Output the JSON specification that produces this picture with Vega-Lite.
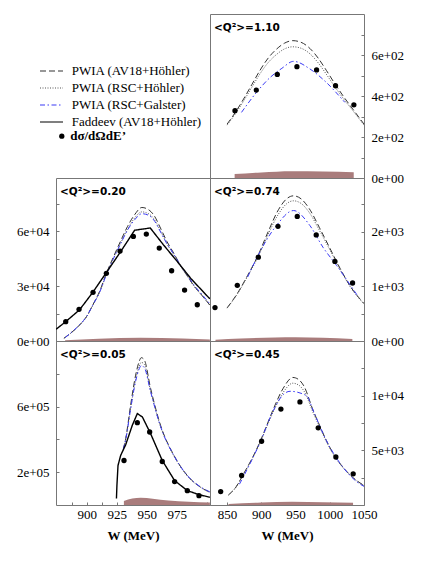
{
"$schema":"https://vega.github.io/schema/vega-lite/v6.json",
"padding":{"left":15,"top":13,"right":0,"bottom":0},
"background":"white",
"config":{
 "font":"Liberation Serif",
 "view":{"stroke":"#777777","strokeWidth":1},
 "axis":{"labelFont":"Liberation Serif","labelFontSize":13,"labelColor":"black","domain":false,"grid":false,"tickColor":"#777777","tickSize":-3,"labelPadding":10,"labelFlush":false,"labelOverlap":false,"labelBound":false,"title":null,"titleFont":"Liberation Serif","titleFontSize":13,"titleFontWeight":"bold","titleColor":"black"},
 "title":{"anchor":"start","frame":"group","orient":"top","offset":0,"dx":4,"dy":23,"baseline":"alphabetic","font":"DejaVu Sans","fontSize":10.5,"fontWeight":"bold","color":"black"},
 "legend":{"labelFont":"Liberation Serif","labelFontSize":13,"labelColor":"black","padding":0,"offset":0,"labelLimit":300}
},
"datasets":{
"curves":[
{"q":"1.10","s":"PWIA (AV18+Höhler)","W":850,"v":263},{"q":"1.10","s":"PWIA (AV18+Höhler)","W":862,"v":320},{"q":"1.10","s":"PWIA (AV18+Höhler)","W":874,"v":385},{"q":"1.10","s":"PWIA (AV18+Höhler)","W":886,"v":455},{"q":"1.10","s":"PWIA (AV18+Höhler)","W":898,"v":525},{"q":"1.10","s":"PWIA (AV18+Höhler)","W":910,"v":585},{"q":"1.10","s":"PWIA (AV18+Höhler)","W":922,"v":628},{"q":"1.10","s":"PWIA (AV18+Höhler)","W":934,"v":658},{"q":"1.10","s":"PWIA (AV18+Höhler)","W":946,"v":670},{"q":"1.10","s":"PWIA (AV18+Höhler)","W":958,"v":662},{"q":"1.10","s":"PWIA (AV18+Höhler)","W":971,"v":632},{"q":"1.10","s":"PWIA (AV18+Höhler)","W":983,"v":585},{"q":"1.10","s":"PWIA (AV18+Höhler)","W":995,"v":525},{"q":"1.10","s":"PWIA (AV18+Höhler)","W":1007,"v":462},{"q":"1.10","s":"PWIA (AV18+Höhler)","W":1020,"v":398},{"q":"1.10","s":"PWIA (AV18+Höhler)","W":1035,"v":330},{"q":"1.10","s":"PWIA (AV18+Höhler)","W":1050,"v":263},
{"q":"1.10","s":"PWIA (RSC+Höhler)","W":850,"v":258},{"q":"1.10","s":"PWIA (RSC+Höhler)","W":862,"v":313},{"q":"1.10","s":"PWIA (RSC+Höhler)","W":874,"v":375},{"q":"1.10","s":"PWIA (RSC+Höhler)","W":886,"v":442},{"q":"1.10","s":"PWIA (RSC+Höhler)","W":898,"v":508},{"q":"1.10","s":"PWIA (RSC+Höhler)","W":910,"v":563},{"q":"1.10","s":"PWIA (RSC+Höhler)","W":922,"v":602},{"q":"1.10","s":"PWIA (RSC+Höhler)","W":934,"v":630},{"q":"1.10","s":"PWIA (RSC+Höhler)","W":946,"v":640},{"q":"1.10","s":"PWIA (RSC+Höhler)","W":958,"v":633},{"q":"1.10","s":"PWIA (RSC+Höhler)","W":971,"v":606},{"q":"1.10","s":"PWIA (RSC+Höhler)","W":983,"v":562},{"q":"1.10","s":"PWIA (RSC+Höhler)","W":995,"v":506},{"q":"1.10","s":"PWIA (RSC+Höhler)","W":1007,"v":447},{"q":"1.10","s":"PWIA (RSC+Höhler)","W":1020,"v":387},{"q":"1.10","s":"PWIA (RSC+Höhler)","W":1035,"v":323},{"q":"1.10","s":"PWIA (RSC+Höhler)","W":1050,"v":258},
{"q":"1.10","s":"PWIA (RSC+Galster)","W":871,"v":320},{"q":"1.10","s":"PWIA (RSC+Galster)","W":893,"v":418},{"q":"1.10","s":"PWIA (RSC+Galster)","W":913,"v":491},{"q":"1.10","s":"PWIA (RSC+Galster)","W":930,"v":535},{"q":"1.10","s":"PWIA (RSC+Galster)","W":947,"v":569},{"q":"1.10","s":"PWIA (RSC+Galster)","W":971,"v":532},{"q":"1.10","s":"PWIA (RSC+Galster)","W":995,"v":466},{"q":"1.10","s":"PWIA (RSC+Galster)","W":1022,"v":369},
{"q":"0.74","s":"PWIA (AV18+Höhler)","W":850,"v":606},{"q":"0.74","s":"PWIA (AV18+Höhler)","W":865,"v":870},{"q":"0.74","s":"PWIA (AV18+Höhler)","W":880,"v":1200},{"q":"0.74","s":"PWIA (AV18+Höhler)","W":895,"v":1560},{"q":"0.74","s":"PWIA (AV18+Höhler)","W":910,"v":2000},{"q":"0.74","s":"PWIA (AV18+Höhler)","W":925,"v":2400},{"q":"0.74","s":"PWIA (AV18+Höhler)","W":937,"v":2600},{"q":"0.74","s":"PWIA (AV18+Höhler)","W":947,"v":2654},{"q":"0.74","s":"PWIA (AV18+Höhler)","W":958,"v":2600},{"q":"0.74","s":"PWIA (AV18+Höhler)","W":970,"v":2420},{"q":"0.74","s":"PWIA (AV18+Höhler)","W":985,"v":2070},{"q":"0.74","s":"PWIA (AV18+Höhler)","W":1000,"v":1700},{"q":"0.74","s":"PWIA (AV18+Höhler)","W":1015,"v":1330},{"q":"0.74","s":"PWIA (AV18+Höhler)","W":1030,"v":1000},{"q":"0.74","s":"PWIA (AV18+Höhler)","W":1050,"v":685},
{"q":"0.74","s":"PWIA (RSC+Höhler)","W":850,"v":600},{"q":"0.74","s":"PWIA (RSC+Höhler)","W":865,"v":860},{"q":"0.74","s":"PWIA (RSC+Höhler)","W":880,"v":1185},{"q":"0.74","s":"PWIA (RSC+Höhler)","W":895,"v":1530},{"q":"0.74","s":"PWIA (RSC+Höhler)","W":910,"v":1950},{"q":"0.74","s":"PWIA (RSC+Höhler)","W":925,"v":2320},{"q":"0.74","s":"PWIA (RSC+Höhler)","W":937,"v":2510},{"q":"0.74","s":"PWIA (RSC+Höhler)","W":947,"v":2563},{"q":"0.74","s":"PWIA (RSC+Höhler)","W":958,"v":2515},{"q":"0.74","s":"PWIA (RSC+Höhler)","W":970,"v":2350},{"q":"0.74","s":"PWIA (RSC+Höhler)","W":985,"v":2020},{"q":"0.74","s":"PWIA (RSC+Höhler)","W":1000,"v":1670},{"q":"0.74","s":"PWIA (RSC+Höhler)","W":1015,"v":1310},{"q":"0.74","s":"PWIA (RSC+Höhler)","W":1030,"v":990},{"q":"0.74","s":"PWIA (RSC+Höhler)","W":1050,"v":675},
{"q":"0.74","s":"PWIA (RSC+Galster)","W":880,"v":1169},{"q":"0.74","s":"PWIA (RSC+Galster)","W":895,"v":1560},{"q":"0.74","s":"PWIA (RSC+Galster)","W":922,"v":2110},{"q":"0.74","s":"PWIA (RSC+Galster)","W":947,"v":2385},{"q":"0.74","s":"PWIA (RSC+Galster)","W":971,"v":2110},{"q":"0.74","s":"PWIA (RSC+Galster)","W":990,"v":1715},{"q":"0.74","s":"PWIA (RSC+Galster)","W":1010,"v":1380},{"q":"0.74","s":"PWIA (RSC+Galster)","W":1041,"v":820},
{"q":"0.45","s":"PWIA (AV18+Höhler)","W":852,"v":921},{"q":"0.45","s":"PWIA (AV18+Höhler)","W":863,"v":1650},{"q":"0.45","s":"PWIA (AV18+Höhler)","W":874,"v":2850},{"q":"0.45","s":"PWIA (AV18+Höhler)","W":886,"v":4200},{"q":"0.45","s":"PWIA (AV18+Höhler)","W":898,"v":5770},{"q":"0.45","s":"PWIA (AV18+Höhler)","W":908,"v":7300},{"q":"0.45","s":"PWIA (AV18+Höhler)","W":918,"v":8840},{"q":"0.45","s":"PWIA (AV18+Höhler)","W":932,"v":10680},{"q":"0.45","s":"PWIA (AV18+Höhler)","W":946,"v":11665},{"q":"0.45","s":"PWIA (AV18+Höhler)","W":955,"v":11450},{"q":"0.45","s":"PWIA (AV18+Höhler)","W":962,"v":10900},{"q":"0.45","s":"PWIA (AV18+Höhler)","W":976,"v":8600},{"q":"0.45","s":"PWIA (AV18+Höhler)","W":985,"v":7300},{"q":"0.45","s":"PWIA (AV18+Höhler)","W":995,"v":5900},{"q":"0.45","s":"PWIA (AV18+Höhler)","W":1007,"v":4500},{"q":"0.45","s":"PWIA (AV18+Höhler)","W":1020,"v":3400},{"q":"0.45","s":"PWIA (AV18+Höhler)","W":1035,"v":2450},{"q":"0.45","s":"PWIA (AV18+Höhler)","W":1050,"v":1780},
{"q":"0.45","s":"PWIA (RSC+Höhler)","W":852,"v":910},{"q":"0.45","s":"PWIA (RSC+Höhler)","W":863,"v":1630},{"q":"0.45","s":"PWIA (RSC+Höhler)","W":874,"v":2820},{"q":"0.45","s":"PWIA (RSC+Höhler)","W":886,"v":4150},{"q":"0.45","s":"PWIA (RSC+Höhler)","W":898,"v":5680},{"q":"0.45","s":"PWIA (RSC+Höhler)","W":908,"v":7150},{"q":"0.45","s":"PWIA (RSC+Höhler)","W":918,"v":8600},{"q":"0.45","s":"PWIA (RSC+Höhler)","W":932,"v":10300},{"q":"0.45","s":"PWIA (RSC+Höhler)","W":946,"v":11140},{"q":"0.45","s":"PWIA (RSC+Höhler)","W":955,"v":10950},{"q":"0.45","s":"PWIA (RSC+Höhler)","W":962,"v":10450},{"q":"0.45","s":"PWIA (RSC+Höhler)","W":976,"v":8400},{"q":"0.45","s":"PWIA (RSC+Höhler)","W":985,"v":7150},{"q":"0.45","s":"PWIA (RSC+Höhler)","W":995,"v":5800},{"q":"0.45","s":"PWIA (RSC+Höhler)","W":1007,"v":4450},{"q":"0.45","s":"PWIA (RSC+Höhler)","W":1020,"v":3370},{"q":"0.45","s":"PWIA (RSC+Höhler)","W":1035,"v":2430},{"q":"0.45","s":"PWIA (RSC+Höhler)","W":1050,"v":1770},
{"q":"0.45","s":"PWIA (RSC+Galster)","W":868,"v":1900},{"q":"0.45","s":"PWIA (RSC+Galster)","W":886,"v":4100},{"q":"0.45","s":"PWIA (RSC+Galster)","W":898,"v":5700},{"q":"0.45","s":"PWIA (RSC+Galster)","W":918,"v":8700},{"q":"0.45","s":"PWIA (RSC+Galster)","W":932,"v":10100},{"q":"0.45","s":"PWIA (RSC+Galster)","W":942,"v":10400},{"q":"0.45","s":"PWIA (RSC+Galster)","W":966,"v":10000},{"q":"0.45","s":"PWIA (RSC+Galster)","W":976,"v":8600},{"q":"0.45","s":"PWIA (RSC+Galster)","W":995,"v":5900},{"q":"0.45","s":"PWIA (RSC+Galster)","W":1020,"v":3400},{"q":"0.45","s":"PWIA (RSC+Galster)","W":1040,"v":2100},{"q":"0.45","s":"PWIA (RSC+Galster)","W":1050,"v":1700},
{"q":"0.20","s":"Faddeev (AV18+Höhler)","W":874.5,"v":6400},{"q":"0.20","s":"Faddeev (AV18+Höhler)","W":882,"v":10300},{"q":"0.20","s":"Faddeev (AV18+Höhler)","W":894,"v":17000},{"q":"0.20","s":"Faddeev (AV18+Höhler)","W":905,"v":26500},{"q":"0.20","s":"Faddeev (AV18+Höhler)","W":916,"v":37000},{"q":"0.20","s":"Faddeev (AV18+Höhler)","W":928,"v":48500},{"q":"0.20","s":"Faddeev (AV18+Höhler)","W":940,"v":60500},{"q":"0.20","s":"Faddeev (AV18+Höhler)","W":953,"v":61700},{"q":"0.20","s":"Faddeev (AV18+Höhler)","W":964,"v":52500},{"q":"0.20","s":"Faddeev (AV18+Höhler)","W":976,"v":43000},{"q":"0.20","s":"Faddeev (AV18+Höhler)","W":987,"v":34000},{"q":"0.20","s":"Faddeev (AV18+Höhler)","W":1002.7,"v":23000},
{"q":"0.20","s":"PWIA (AV18+Höhler)","W":881,"v":1500},{"q":"0.20","s":"PWIA (AV18+Höhler)","W":887,"v":4500},{"q":"0.20","s":"PWIA (AV18+Höhler)","W":894,"v":8700},{"q":"0.20","s":"PWIA (AV18+Höhler)","W":900,"v":13500},{"q":"0.20","s":"PWIA (AV18+Höhler)","W":905,"v":19600},{"q":"0.20","s":"PWIA (AV18+Höhler)","W":911,"v":27500},{"q":"0.20","s":"PWIA (AV18+Höhler)","W":916,"v":36300},{"q":"0.20","s":"PWIA (AV18+Höhler)","W":922,"v":45500},{"q":"0.20","s":"PWIA (AV18+Höhler)","W":928,"v":54200},{"q":"0.20","s":"PWIA (AV18+Höhler)","W":934,"v":62500},{"q":"0.20","s":"PWIA (AV18+Höhler)","W":940,"v":69000},{"q":"0.20","s":"PWIA (AV18+Höhler)","W":946,"v":72900},{"q":"0.20","s":"PWIA (AV18+Höhler)","W":952,"v":71500},{"q":"0.20","s":"PWIA (AV18+Höhler)","W":956,"v":68700},{"q":"0.20","s":"PWIA (AV18+Höhler)","W":962,"v":61000},{"q":"0.20","s":"PWIA (AV18+Höhler)","W":967,"v":54200},{"q":"0.20","s":"PWIA (AV18+Höhler)","W":973,"v":47500},{"q":"0.20","s":"PWIA (AV18+Höhler)","W":978,"v":41500},{"q":"0.20","s":"PWIA (AV18+Höhler)","W":984,"v":35500},{"q":"0.20","s":"PWIA (AV18+Höhler)","W":989,"v":30500},{"q":"0.20","s":"PWIA (AV18+Höhler)","W":996,"v":25000},{"q":"0.20","s":"PWIA (AV18+Höhler)","W":1002.7,"v":19600},
{"q":"0.20","s":"PWIA (RSC+Höhler)","W":881,"v":1500},{"q":"0.20","s":"PWIA (RSC+Höhler)","W":887,"v":4400},{"q":"0.20","s":"PWIA (RSC+Höhler)","W":894,"v":8600},{"q":"0.20","s":"PWIA (RSC+Höhler)","W":900,"v":13300},{"q":"0.20","s":"PWIA (RSC+Höhler)","W":905,"v":19300},{"q":"0.20","s":"PWIA (RSC+Höhler)","W":911,"v":27000},{"q":"0.20","s":"PWIA (RSC+Höhler)","W":916,"v":35700},{"q":"0.20","s":"PWIA (RSC+Höhler)","W":922,"v":44700},{"q":"0.20","s":"PWIA (RSC+Höhler)","W":928,"v":53000},{"q":"0.20","s":"PWIA (RSC+Höhler)","W":934,"v":61000},{"q":"0.20","s":"PWIA (RSC+Höhler)","W":940,"v":67200},{"q":"0.20","s":"PWIA (RSC+Höhler)","W":946,"v":70500},{"q":"0.20","s":"PWIA (RSC+Höhler)","W":952,"v":69300},{"q":"0.20","s":"PWIA (RSC+Höhler)","W":956,"v":66700},{"q":"0.20","s":"PWIA (RSC+Höhler)","W":962,"v":59500},{"q":"0.20","s":"PWIA (RSC+Höhler)","W":967,"v":53000},{"q":"0.20","s":"PWIA (RSC+Höhler)","W":973,"v":46700},{"q":"0.20","s":"PWIA (RSC+Höhler)","W":978,"v":41000},{"q":"0.20","s":"PWIA (RSC+Höhler)","W":984,"v":35200},{"q":"0.20","s":"PWIA (RSC+Höhler)","W":989,"v":30300},{"q":"0.20","s":"PWIA (RSC+Höhler)","W":996,"v":24800},{"q":"0.20","s":"PWIA (RSC+Höhler)","W":1002.7,"v":19500},
{"q":"0.20","s":"PWIA (RSC+Galster)","W":882,"v":1800},{"q":"0.20","s":"PWIA (RSC+Galster)","W":887,"v":4600},{"q":"0.20","s":"PWIA (RSC+Galster)","W":894,"v":8800},{"q":"0.20","s":"PWIA (RSC+Galster)","W":900,"v":13500},{"q":"0.20","s":"PWIA (RSC+Galster)","W":905,"v":19500},{"q":"0.20","s":"PWIA (RSC+Galster)","W":911,"v":27000},{"q":"0.20","s":"PWIA (RSC+Galster)","W":916,"v":35500},{"q":"0.20","s":"PWIA (RSC+Galster)","W":922,"v":44500},{"q":"0.20","s":"PWIA (RSC+Galster)","W":928,"v":52700},{"q":"0.20","s":"PWIA (RSC+Galster)","W":934,"v":60500},{"q":"0.20","s":"PWIA (RSC+Galster)","W":940,"v":66200},{"q":"0.20","s":"PWIA (RSC+Galster)","W":946,"v":69500},{"q":"0.20","s":"PWIA (RSC+Galster)","W":952,"v":68500},{"q":"0.20","s":"PWIA (RSC+Galster)","W":956,"v":66000},{"q":"0.20","s":"PWIA (RSC+Galster)","W":962,"v":59000},{"q":"0.20","s":"PWIA (RSC+Galster)","W":967,"v":53000},{"q":"0.20","s":"PWIA (RSC+Galster)","W":973,"v":47000},{"q":"0.20","s":"PWIA (RSC+Galster)","W":978,"v":41500},{"q":"0.20","s":"PWIA (RSC+Galster)","W":984,"v":36000},{"q":"0.20","s":"PWIA (RSC+Galster)","W":989,"v":31000},{"q":"0.20","s":"PWIA (RSC+Galster)","W":996,"v":25500},{"q":"0.20","s":"PWIA (RSC+Galster)","W":1002.7,"v":20300},
{"q":"0.05","s":"Faddeev (AV18+Höhler)","W":924.8,"v":40000},{"q":"0.05","s":"Faddeev (AV18+Höhler)","W":925.2,"v":120000},{"q":"0.05","s":"Faddeev (AV18+Höhler)","W":926.1,"v":240700},{"q":"0.05","s":"Faddeev (AV18+Höhler)","W":928.3,"v":302000},{"q":"0.05","s":"Faddeev (AV18+Höhler)","W":932.5,"v":367400},{"q":"0.05","s":"Faddeev (AV18+Höhler)","W":938,"v":485600},{"q":"0.05","s":"Faddeev (AV18+Höhler)","W":942.2,"v":557300},{"q":"0.05","s":"Faddeev (AV18+Höhler)","W":946.4,"v":537000},{"q":"0.05","s":"Faddeev (AV18+Höhler)","W":953.3,"v":434800},{"q":"0.05","s":"Faddeev (AV18+Höhler)","W":963,"v":271300},{"q":"0.05","s":"Faddeev (AV18+Höhler)","W":973.3,"v":148800},{"q":"0.05","s":"Faddeev (AV18+Höhler)","W":983.9,"v":87600},{"q":"0.05","s":"Faddeev (AV18+Höhler)","W":993.6,"v":63000},{"q":"0.05","s":"Faddeev (AV18+Höhler)","W":1002.7,"v":47100},
{"q":"0.05","s":"PWIA (AV18+Höhler)","W":930.5,"v":340000},{"q":"0.05","s":"PWIA (AV18+Höhler)","W":932.5,"v":404200},{"q":"0.05","s":"PWIA (AV18+Höhler)","W":936.6,"v":608000},{"q":"0.05","s":"PWIA (AV18+Höhler)","W":940.8,"v":791800},{"q":"0.05","s":"PWIA (AV18+Höhler)","W":943.5,"v":870000},{"q":"0.05","s":"PWIA (AV18+Höhler)","W":945.5,"v":898300},{"q":"0.05","s":"PWIA (AV18+Höhler)","W":948,"v":885000},{"q":"0.05","s":"PWIA (AV18+Höhler)","W":953.3,"v":710400},{"q":"0.05","s":"PWIA (AV18+Höhler)","W":961.6,"v":485600},{"q":"0.05","s":"PWIA (AV18+Höhler)","W":972.8,"v":302000},{"q":"0.05","s":"PWIA (AV18+Höhler)","W":983.9,"v":179400},{"q":"0.05","s":"PWIA (AV18+Höhler)","W":995,"v":108400},{"q":"0.05","s":"PWIA (AV18+Höhler)","W":1002.7,"v":77800},
{"q":"0.05","s":"PWIA (RSC+Höhler)","W":930.5,"v":340000},{"q":"0.05","s":"PWIA (RSC+Höhler)","W":932.5,"v":400000},{"q":"0.05","s":"PWIA (RSC+Höhler)","W":936.6,"v":590000},{"q":"0.05","s":"PWIA (RSC+Höhler)","W":940.8,"v":765000},{"q":"0.05","s":"PWIA (RSC+Höhler)","W":943.5,"v":840000},{"q":"0.05","s":"PWIA (RSC+Höhler)","W":945.5,"v":869600},{"q":"0.05","s":"PWIA (RSC+Höhler)","W":948,"v":858000},{"q":"0.05","s":"PWIA (RSC+Höhler)","W":953.3,"v":695000},{"q":"0.05","s":"PWIA (RSC+Höhler)","W":961.6,"v":478000},{"q":"0.05","s":"PWIA (RSC+Höhler)","W":972.8,"v":298000},{"q":"0.05","s":"PWIA (RSC+Höhler)","W":983.9,"v":177000},{"q":"0.05","s":"PWIA (RSC+Höhler)","W":995,"v":107000},{"q":"0.05","s":"PWIA (RSC+Höhler)","W":1002.7,"v":77000},
{"q":"0.05","s":"PWIA (RSC+Galster)","W":930.5,"v":340000},{"q":"0.05","s":"PWIA (RSC+Galster)","W":932.5,"v":398000},{"q":"0.05","s":"PWIA (RSC+Galster)","W":936.6,"v":585000},{"q":"0.05","s":"PWIA (RSC+Galster)","W":940.8,"v":755000},{"q":"0.05","s":"PWIA (RSC+Galster)","W":943.5,"v":825000},{"q":"0.05","s":"PWIA (RSC+Galster)","W":945.5,"v":850000},{"q":"0.05","s":"PWIA (RSC+Galster)","W":948,"v":838000},{"q":"0.05","s":"PWIA (RSC+Galster)","W":953.3,"v":690000},{"q":"0.05","s":"PWIA (RSC+Galster)","W":961.6,"v":478000},{"q":"0.05","s":"PWIA (RSC+Galster)","W":972.8,"v":300000},{"q":"0.05","s":"PWIA (RSC+Galster)","W":983.9,"v":180000},{"q":"0.05","s":"PWIA (RSC+Galster)","W":995,"v":110000},{"q":"0.05","s":"PWIA (RSC+Galster)","W":1002.7,"v":80000}
],
"points":[
{"q":"1.10","W":861.5,"v":328},{"q":"1.10","W":892.6,"v":429},{"q":"1.10","W":923.3,"v":505},{"q":"1.10","W":952,"v":543},{"q":"1.10","W":980.7,"v":527},{"q":"1.10","W":1008.4,"v":450},{"q":"1.10","W":1035.2,"v":357},
{"q":"0.74","W":832.3,"v":612},{"q":"0.74","W":864.9,"v":1018},{"q":"0.74","W":895.6,"v":1533},{"q":"0.74","W":924.3,"v":2097},{"q":"0.74","W":952.5,"v":2278},{"q":"0.74","W":980.2,"v":1939},{"q":"0.74","W":1007.5,"v":1454},{"q":"0.74","W":1033.3,"v":1060},
{"q":"0.45","W":840.6,"v":1225},{"q":"0.45","W":871.2,"v":2700},{"q":"0.45","W":900.4,"v":5830},{"q":"0.45","W":928.6,"v":8776},{"q":"0.45","W":956.4,"v":9423},{"q":"0.45","W":983.1,"v":7060},{"q":"0.45","W":1008.9,"v":4390},{"q":"0.45","W":1034.2,"v":2854},
{"q":"0.20","W":882.5,"v":10530},{"q":"0.20","W":893.6,"v":17290},{"q":"0.20","W":905.3,"v":26560},{"q":"0.20","W":916.4,"v":36930},{"q":"0.20","W":927.8,"v":49095},{"q":"0.20","W":938.9,"v":57110},{"q":"0.20","W":949.7,"v":58370},{"q":"0.20","W":960.5,"v":50730},{"q":"0.20","W":970.8,"v":38350},{"q":"0.20","W":981.6,"v":27820},{"q":"0.20","W":992.2,"v":19800},
{"q":"0.05","W":931.1,"v":271300},{"q":"0.05","W":942.2,"v":502200},{"q":"0.05","W":952.5,"v":445200},{"q":"0.05","W":963,"v":265200},{"q":"0.05","W":973.3,"v":142700},{"q":"0.05","W":983.9,"v":87600},{"q":"0.05","W":993.6,"v":57000}
],
"band":[
{"q":"1.10","W":861,"v":19},{"q":"1.10","W":900,"v":27},{"q":"1.10","W":945,"v":33},{"q":"1.10","W":990,"v":32},{"q":"1.10","W":1035,"v":28},
{"q":"0.74","W":833,"v":25},{"q":"0.74","W":870,"v":45},{"q":"0.74","W":920,"v":65},{"q":"0.74","W":950,"v":70},{"q":"0.74","W":990,"v":60},{"q":"0.74","W":1033,"v":35},
{"q":"0.45","W":852,"v":100},{"q":"0.45","W":900,"v":220},{"q":"0.45","W":945,"v":300},{"q":"0.45","W":990,"v":250},{"q":"0.45","W":1034,"v":200},
{"q":"0.20","W":882,"v":400},{"q":"0.20","W":910,"v":1200},{"q":"0.20","W":945,"v":1800},{"q":"0.20","W":980,"v":1300},{"q":"0.20","W":1002.7,"v":800},
{"q":"0.05","W":931,"v":25000},{"q":"0.05","W":938,"v":40000},{"q":"0.05","W":945,"v":44000},{"q":"0.05","W":955,"v":38000},{"q":"0.05","W":968,"v":27000},{"q":"0.05","W":985,"v":20000},{"q":"0.05","W":1002.7,"v":15000}
]
},
"columns":2,
"spacing":0,
"bounds":"flush",
"resolve":{"scale":{"color":"shared","strokeDash":"shared","shape":"shared"}},
"concat":[
{"width":154,"height":164,"view":{"stroke":null},"data":{"values":[{"a":1}]},"mark":{"type":"point","opacity":0}},
{"width":154,"height":164,"title":{"text":"<Q²>=1.10"},
 "encoding":{"x":{"field":"W","type":"quantitative","scale":{"domain":[825,1050],"nice":false,"zero":false},"axis":null},
  "y":{"field":"v","type":"quantitative","scale":{"domain":[0,800],"nice":false},"axis":{"orient":"right","values":[0,100,200,300,400,500,600,700],"labelExpr":"datum.value % 200 == 0 ? replace(format(datum.value, '.0e'), 'e+', 'e+0') : ''"}}},
 "layer":[
  {"data":{"name":"band"},"transform":[{"filter":"datum.q == '1.10'"}],"mark":{"type":"area","color":"#a97c7c","interpolate":"monotone","clip":true}},
  {"data":{"name":"curves"},"transform":[{"filter":"datum.q == '1.10'"}],"mark":{"type":"line","strokeWidth":1,"interpolate":"monotone","clip":true},
   "encoding":{"color":{"field":"s","type":"nominal","scale":{"domain":["PWIA (AV18+Höhler)","PWIA (RSC+Höhler)","PWIA (RSC+Galster)","Faddeev (AV18+Höhler)"],"range":["#333333","#555555","#3b3bf5","#000000"]},"legend":{"orient":"none","legendX":-17,"legendY":48.7,"title":null,"symbolType":"stroke","symbolSize":529,"symbolStrokeWidth":1.1,"labelOffset":7.7,"rowPadding":0,"clipHeight":16.67}},
    "strokeDash":{"field":"s","type":"nominal","scale":{"domain":["PWIA (AV18+Höhler)","PWIA (RSC+Höhler)","PWIA (RSC+Galster)","Faddeev (AV18+Höhler)"],"range":[[6,3],[1,1.5],[5,2.5,1.5,2.5],[1,0]]},"legend":{"orient":"none","legendX":-17,"legendY":48.7,"title":null,"symbolType":"stroke","symbolSize":529,"symbolStrokeWidth":1.1,"labelOffset":7.7,"rowPadding":0,"clipHeight":16.67}}}},
  {"data":{"name":"points"},"transform":[{"filter":"datum.q == '1.10'"}],"mark":{"type":"point","filled":true,"color":"black","opacity":1,"size":28},
   "encoding":{"shape":{"datum":"dσ/dΩdE’","type":"nominal","scale":{"range":["circle"]},"legend":{"orient":"none","legendX":-0.7,"legendY":115.7,"title":null,"symbolSize":28,"symbolFillColor":"black","symbolStrokeWidth":0,"symbolOpacity":1,"labelFontWeight":"bold","labelOffset":1.9}}}}
 ]},
{"width":154,"height":163,"title":{"text":"<Q²>=0.20"},
 "encoding":{"x":{"field":"W","type":"quantitative","scale":{"domain":[874.4,1002.8],"nice":false,"zero":false},"axis":null},
  "y":{"field":"v","type":"quantitative","scale":{"domain":[0,89000],"nice":false},"axis":{"orient":"left","values":[0,15000,30000,45000,60000,75000],"labelExpr":"datum.value % 30000 == 0 ? replace(format(datum.value, '.0e'), 'e+', 'e+0') : ''"}}},
 "layer":[
  {"data":{"name":"band"},"transform":[{"filter":"datum.q == '0.20'"}],"mark":{"type":"area","color":"#a97c7c","interpolate":"monotone","clip":true}},
  {"data":{"name":"curves"},"transform":[{"filter":"datum.q == '0.20' && datum.s != 'Faddeev (AV18+Höhler)'"}],"mark":{"type":"line","strokeWidth":1,"interpolate":"monotone","clip":true},
   "encoding":{"color":{"field":"s","type":"nominal","scale":{"domain":["PWIA (AV18+Höhler)","PWIA (RSC+Höhler)","PWIA (RSC+Galster)","Faddeev (AV18+Höhler)"],"range":["#333333","#555555","#3b3bf5","#000000"]},"legend":{"orient":"none","legendX":-17,"legendY":48.7,"title":null,"symbolType":"stroke","symbolSize":529,"symbolStrokeWidth":1.1,"labelOffset":7.7,"rowPadding":0,"clipHeight":16.67}},
    "strokeDash":{"field":"s","type":"nominal","scale":{"domain":["PWIA (AV18+Höhler)","PWIA (RSC+Höhler)","PWIA (RSC+Galster)","Faddeev (AV18+Höhler)"],"range":[[6,3],[1,1.5],[5,2.5,1.5,2.5],[1,0]]},"legend":{"orient":"none","legendX":-17,"legendY":48.7,"title":null,"symbolType":"stroke","symbolSize":529,"symbolStrokeWidth":1.1,"labelOffset":7.7,"rowPadding":0,"clipHeight":16.67}}}},
  {"data":{"name":"curves"},"transform":[{"filter":"datum.q == '0.20' && datum.s == 'Faddeev (AV18+Höhler)'"}],"mark":{"type":"line","strokeWidth":1.4,"interpolate":"linear","clip":true},
   "encoding":{"color":{"field":"s","type":"nominal","scale":{"domain":["PWIA (AV18+Höhler)","PWIA (RSC+Höhler)","PWIA (RSC+Galster)","Faddeev (AV18+Höhler)"],"range":["#333333","#555555","#3b3bf5","#000000"]},"legend":{"orient":"none","legendX":-17,"legendY":48.7,"title":null,"symbolType":"stroke","symbolSize":529,"symbolStrokeWidth":1.1,"labelOffset":7.7,"rowPadding":0,"clipHeight":16.67}},
    "strokeDash":{"field":"s","type":"nominal","scale":{"domain":["PWIA (AV18+Höhler)","PWIA (RSC+Höhler)","PWIA (RSC+Galster)","Faddeev (AV18+Höhler)"],"range":[[6,3],[1,1.5],[5,2.5,1.5,2.5],[1,0]]},"legend":{"orient":"none","legendX":-17,"legendY":48.7,"title":null,"symbolType":"stroke","symbolSize":529,"symbolStrokeWidth":1.1,"labelOffset":7.7,"rowPadding":0,"clipHeight":16.67}}}},
  {"data":{"name":"points"},"transform":[{"filter":"datum.q == '0.20'"}],"mark":{"type":"point","filled":true,"color":"black","opacity":1,"size":28},
   "encoding":{"shape":{"datum":"dσ/dΩdE’","type":"nominal","scale":{"range":["circle"]},"legend":{"orient":"none","legendX":-0.7,"legendY":115.7,"title":null,"symbolSize":28,"symbolFillColor":"black","symbolStrokeWidth":0,"symbolOpacity":1,"labelFontWeight":"bold","labelOffset":1.9}}}}
 ]},
{"width":154,"height":163,"title":{"text":"<Q²>=0.74"},
 "encoding":{"x":{"field":"W","type":"quantitative","scale":{"domain":[825,1050],"nice":false,"zero":false},"axis":null},
  "y":{"field":"v","type":"quantitative","scale":{"domain":[0,2980],"nice":false},"axis":{"orient":"right","values":[0,500,1000,1500,2000,2500],"labelExpr":"datum.value % 1000 == 0 ? replace(format(datum.value, '.0e'), 'e+', 'e+0') : ''"}}},
 "layer":[
  {"data":{"name":"band"},"transform":[{"filter":"datum.q == '0.74'"}],"mark":{"type":"area","color":"#a97c7c","interpolate":"monotone","clip":true}},
  {"data":{"name":"curves"},"transform":[{"filter":"datum.q == '0.74'"}],"mark":{"type":"line","strokeWidth":1,"interpolate":"monotone","clip":true},
   "encoding":{"color":{"field":"s","type":"nominal","scale":{"domain":["PWIA (AV18+Höhler)","PWIA (RSC+Höhler)","PWIA (RSC+Galster)","Faddeev (AV18+Höhler)"],"range":["#333333","#555555","#3b3bf5","#000000"]},"legend":{"orient":"none","legendX":-17,"legendY":48.7,"title":null,"symbolType":"stroke","symbolSize":529,"symbolStrokeWidth":1.1,"labelOffset":7.7,"rowPadding":0,"clipHeight":16.67}},
    "strokeDash":{"field":"s","type":"nominal","scale":{"domain":["PWIA (AV18+Höhler)","PWIA (RSC+Höhler)","PWIA (RSC+Galster)","Faddeev (AV18+Höhler)"],"range":[[6,3],[1,1.5],[5,2.5,1.5,2.5],[1,0]]},"legend":{"orient":"none","legendX":-17,"legendY":48.7,"title":null,"symbolType":"stroke","symbolSize":529,"symbolStrokeWidth":1.1,"labelOffset":7.7,"rowPadding":0,"clipHeight":16.67}}}},
  {"data":{"name":"points"},"transform":[{"filter":"datum.q == '0.74'"}],"mark":{"type":"point","filled":true,"color":"black","opacity":1,"size":28},
   "encoding":{"shape":{"datum":"dσ/dΩdE’","type":"nominal","scale":{"range":["circle"]},"legend":{"orient":"none","legendX":-0.7,"legendY":115.7,"title":null,"symbolSize":28,"symbolFillColor":"black","symbolStrokeWidth":0,"symbolOpacity":1,"labelFontWeight":"bold","labelOffset":1.9}}}}
 ]},
{"width":154,"height":164,"title":{"text":"<Q²>=0.05"},
 "encoding":{"x":{"field":"W","type":"quantitative","scale":{"domain":[874.4,1002.8],"nice":false,"zero":false},"axis":{"orient":"bottom","values":[887.5,900,912.5,925,937.5,950,962.5,975,987.5,1000],"labelExpr":"datum.value % 25 == 0 && datum.value < 1000 ? format(datum.value, 'd') : ''","title":"W (MeV)","labelPadding":6,"titlePadding":8}},
  "y":{"field":"v","type":"quantitative","scale":{"domain":[0,1000000],"nice":false},"axis":{"orient":"left","values":[200000,400000,600000,800000],"labelExpr":"datum.value == 200000 || datum.value == 600000 ? replace(format(datum.value, '.0e'), 'e+', 'e+0') : ''"}}},
 "layer":[
  {"data":{"name":"band"},"transform":[{"filter":"datum.q == '0.05'"}],"mark":{"type":"area","color":"#a97c7c","interpolate":"monotone","clip":true}},
  {"data":{"name":"curves"},"transform":[{"filter":"datum.q == '0.05' && datum.s != 'Faddeev (AV18+Höhler)'"}],"mark":{"type":"line","strokeWidth":1,"interpolate":"monotone","clip":true},
   "encoding":{"color":{"field":"s","type":"nominal","scale":{"domain":["PWIA (AV18+Höhler)","PWIA (RSC+Höhler)","PWIA (RSC+Galster)","Faddeev (AV18+Höhler)"],"range":["#333333","#555555","#3b3bf5","#000000"]},"legend":{"orient":"none","legendX":-17,"legendY":48.7,"title":null,"symbolType":"stroke","symbolSize":529,"symbolStrokeWidth":1.1,"labelOffset":7.7,"rowPadding":0,"clipHeight":16.67}},
    "strokeDash":{"field":"s","type":"nominal","scale":{"domain":["PWIA (AV18+Höhler)","PWIA (RSC+Höhler)","PWIA (RSC+Galster)","Faddeev (AV18+Höhler)"],"range":[[6,3],[1,1.5],[5,2.5,1.5,2.5],[1,0]]},"legend":{"orient":"none","legendX":-17,"legendY":48.7,"title":null,"symbolType":"stroke","symbolSize":529,"symbolStrokeWidth":1.1,"labelOffset":7.7,"rowPadding":0,"clipHeight":16.67}}}},
  {"data":{"name":"curves"},"transform":[{"filter":"datum.q == '0.05' && datum.s == 'Faddeev (AV18+Höhler)'"}],"mark":{"type":"line","strokeWidth":1.4,"interpolate":"linear","clip":true},
   "encoding":{"color":{"field":"s","type":"nominal","scale":{"domain":["PWIA (AV18+Höhler)","PWIA (RSC+Höhler)","PWIA (RSC+Galster)","Faddeev (AV18+Höhler)"],"range":["#333333","#555555","#3b3bf5","#000000"]},"legend":{"orient":"none","legendX":-17,"legendY":48.7,"title":null,"symbolType":"stroke","symbolSize":529,"symbolStrokeWidth":1.1,"labelOffset":7.7,"rowPadding":0,"clipHeight":16.67}},
    "strokeDash":{"field":"s","type":"nominal","scale":{"domain":["PWIA (AV18+Höhler)","PWIA (RSC+Höhler)","PWIA (RSC+Galster)","Faddeev (AV18+Höhler)"],"range":[[6,3],[1,1.5],[5,2.5,1.5,2.5],[1,0]]},"legend":{"orient":"none","legendX":-17,"legendY":48.7,"title":null,"symbolType":"stroke","symbolSize":529,"symbolStrokeWidth":1.1,"labelOffset":7.7,"rowPadding":0,"clipHeight":16.67}}}},
  {"data":{"name":"points"},"transform":[{"filter":"datum.q == '0.05'"}],"mark":{"type":"point","filled":true,"color":"black","opacity":1,"size":28},
   "encoding":{"shape":{"datum":"dσ/dΩdE’","type":"nominal","scale":{"range":["circle"]},"legend":{"orient":"none","legendX":-0.7,"legendY":115.7,"title":null,"symbolSize":28,"symbolFillColor":"black","symbolStrokeWidth":0,"symbolOpacity":1,"labelFontWeight":"bold","labelOffset":1.9}}}}
 ]},
{"width":154,"height":164,"title":{"text":"<Q²>=0.45"},
 "encoding":{"x":{"field":"W","type":"quantitative","scale":{"domain":[825,1050],"nice":false,"zero":false},"axis":{"orient":"bottom","values":[850,900,950,1000,1050],"format":"d","title":"W  (MeV)","labelPadding":6,"titlePadding":8}},
  "y":{"field":"v","type":"quantitative","scale":{"domain":[0,15000],"nice":false},"axis":{"orient":"right","values":[2500,5000,7500,10000,12500],"labelExpr":"datum.value % 5000 == 0 ? replace(format(datum.value, '.0e'), 'e+', 'e+0') : ''"}}},
 "layer":[
  {"data":{"name":"band"},"transform":[{"filter":"datum.q == '0.45'"}],"mark":{"type":"area","color":"#a97c7c","interpolate":"monotone","clip":true}},
  {"data":{"name":"curves"},"transform":[{"filter":"datum.q == '0.45'"}],"mark":{"type":"line","strokeWidth":1,"interpolate":"monotone","clip":true},
   "encoding":{"color":{"field":"s","type":"nominal","scale":{"domain":["PWIA (AV18+Höhler)","PWIA (RSC+Höhler)","PWIA (RSC+Galster)","Faddeev (AV18+Höhler)"],"range":["#333333","#555555","#3b3bf5","#000000"]},"legend":{"orient":"none","legendX":-17,"legendY":48.7,"title":null,"symbolType":"stroke","symbolSize":529,"symbolStrokeWidth":1.1,"labelOffset":7.7,"rowPadding":0,"clipHeight":16.67}},
    "strokeDash":{"field":"s","type":"nominal","scale":{"domain":["PWIA (AV18+Höhler)","PWIA (RSC+Höhler)","PWIA (RSC+Galster)","Faddeev (AV18+Höhler)"],"range":[[6,3],[1,1.5],[5,2.5,1.5,2.5],[1,0]]},"legend":{"orient":"none","legendX":-17,"legendY":48.7,"title":null,"symbolType":"stroke","symbolSize":529,"symbolStrokeWidth":1.1,"labelOffset":7.7,"rowPadding":0,"clipHeight":16.67}}}},
  {"data":{"name":"points"},"transform":[{"filter":"datum.q == '0.45'"}],"mark":{"type":"point","filled":true,"color":"black","opacity":1,"size":28},
   "encoding":{"shape":{"datum":"dσ/dΩdE’","type":"nominal","scale":{"range":["circle"]},"legend":{"orient":"none","legendX":-0.7,"legendY":115.7,"title":null,"symbolSize":28,"symbolFillColor":"black","symbolStrokeWidth":0,"symbolOpacity":1,"labelFontWeight":"bold","labelOffset":1.9}}}}
 ]}
]
}
